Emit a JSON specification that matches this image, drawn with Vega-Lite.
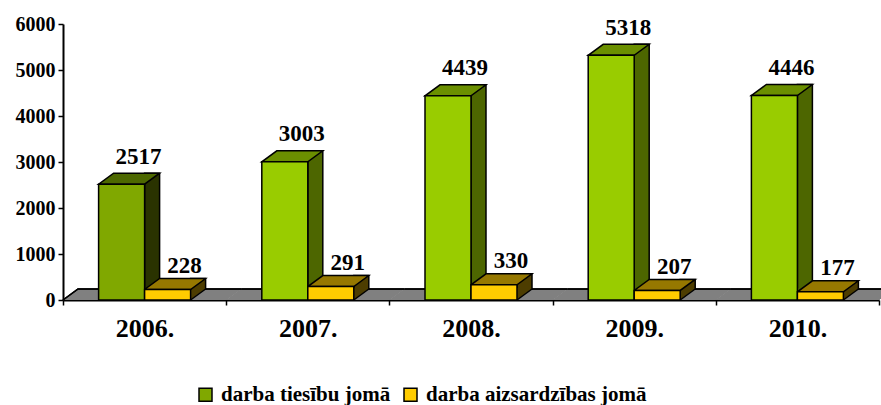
{
  "$schema": "https://vega.github.io/schema/vega-lite/v6.json",
  "width": 816,
  "height": 276,
  "autosize": {"type": "none"},
  "padding": {"left": 63, "top": 24, "right": 2, "bottom": 105},
  "background": "white",
  "config": {
    "view": {"stroke": null},
    "font": "Liberation Serif",
    "legend": {"labelFont": "Liberation Serif", "labelFontWeight": "bold", "labelFontSize": 21}
  },
  "data": {
    "values": [
      {"year": "2006.", "series": "darba tiesību jomā", "value": 2517},
      {"year": "2006.", "series": "darba aizsardzības jomā", "value": 228},
      {"year": "2007.", "series": "darba tiesību jomā", "value": 3003},
      {"year": "2007.", "series": "darba aizsardzības jomā", "value": 291},
      {"year": "2008.", "series": "darba tiesību jomā", "value": 4439},
      {"year": "2008.", "series": "darba aizsardzības jomā", "value": 330},
      {"year": "2009.", "series": "darba tiesību jomā", "value": 5318},
      {"year": "2009.", "series": "darba aizsardzības jomā", "value": 207},
      {"year": "2010.", "series": "darba tiesību jomā", "value": 4446},
      {"year": "2010.", "series": "darba aizsardzības jomā", "value": 177}
    ]
  },
  "encoding": {
    "x": {
      "field": "year", "type": "nominal", "sort": null,
      "scale": {"paddingInner": 0, "paddingOuter": 0},
      "axis": {
        "title": null, "labelAngle": 0, "tickBand": "extent",
        "labelFont": "Liberation Serif", "labelFontSize": 26, "labelFontWeight": "bold", "labelColor": "black",
        "labelPadding": 10, "tickSize": 5, "tickColor": "black", "tickWidth": 1.5,
        "domainColor": "black", "domainWidth": 2, "grid": false
      }
    },
    "y": {
      "field": "value", "type": "quantitative", "stack": null,
      "scale": {"domain": [0, 6000], "nice": false, "padding": 0, "zero": true},
      "axis": {
        "title": null, "values": [0, 1000, 2000, 3000, 4000, 5000, 6000], "format": "d",
        "labelFont": "Liberation Serif", "labelFontSize": 20, "labelFontWeight": "bold", "labelColor": "black",
        "labelPadding": 3, "tickSize": 5, "tickColor": "black", "tickWidth": 1.5,
        "domainColor": "black", "domainWidth": 2, "grid": false
      }
    }
  },
  "layer": [
    {
      "mark": {"type": "point", "shape": "M -81.6 0 L 81.6 0 L 96.6 -11 L -66.6 -11 Z", "size": 4, "filled": true, "fill": "#808080", "strokeWidth": 0, "opacity": 1},
      "encoding": {"y": {"datum": 0, "type": "quantitative"}}
    },
    {
      "mark": {"type": "point", "size": 4, "filled": false, "fill": null, "stroke": "black", "strokeWidth": 1.5, "opacity": 1},
      "encoding": {
        "y": {"datum": 0, "type": "quantitative"},
        "shape": {"condition": {"test": "datum.year === '2006.'", "value": "M -81.6 0 L -66.6 -11 L 96.6 -11"}, "value": "M -66.6 -11 L 96.6 -11"}
      }
    },
    {
      "transform": [{"filter": "datum.series === 'darba tiesību jomā'"}],
      "mark": {"type": "bar", "yOffset": -11, "y2Offset": -11, "stroke": "black", "strokeWidth": 1.5},
      "encoding": {
        "x": {"field": "year", "type": "nominal", "bandPosition": 0.5},
        "x2": {"field": "year", "bandPosition": 0.5919},
        "y2": {"datum": 0},
        "fill": {"condition": {"test": "datum.year === '2006.'", "value": "#2a3300"}, "value": "#4d6600"}
      }
    },
    {
      "transform": [{"filter": "datum.series === 'darba aizsardzības jomā'"}],
      "mark": {"type": "bar", "yOffset": -11, "y2Offset": -11, "stroke": "black", "strokeWidth": 1.5, "fill": "#4d3d00"},
      "encoding": {
        "x": {"field": "year", "type": "nominal", "bandPosition": 0.7819},
        "x2": {"field": "year", "bandPosition": 0.8738},
        "y2": {"datum": 0}
      }
    },
    {
      "mark": {"type": "point", "shape": "M 23 -11.9 L 37.3 -11.9 L 37.3 -10.5 L 23 0 Z", "size": 4, "filled": true, "strokeWidth": 0, "opacity": 1},
      "encoding": {
        "y": {"datum": 0, "type": "quantitative"},
        "xOffset": {"field": "series", "type": "nominal", "scale": {"domain": ["darba tiesību jomā", "darba aizsardzības jomā"], "paddingInner": 0, "paddingOuter": 0.774}},
        "fill": {"condition": [
          {"test": "datum.series === 'darba aizsardzības jomā'", "value": "#4d3d00"},
          {"test": "datum.year === '2006.'", "value": "#2a3300"}
        ], "value": "#4d6600"}
      }
    },
    {
      "mark": {"type": "point", "shape": "M 23 0 L 38 -11", "size": 4, "filled": false, "fill": null, "stroke": "black", "strokeWidth": 1.5, "opacity": 1},
      "encoding": {
        "y": {"datum": 0, "type": "quantitative"},
        "xOffset": {"field": "series", "type": "nominal"}
      }
    },
    {
      "mark": {"type": "point", "shape": "M -23 0 L 23 0 L 38 -11 L -8 -11 Z", "size": 4, "filled": true, "stroke": "black", "strokeWidth": 1.5, "opacity": 1},
      "encoding": {
        "xOffset": {"field": "series", "type": "nominal"},
        "fill": {"condition": [
          {"test": "datum.series === 'darba aizsardzības jomā'", "value": "#967800"},
          {"test": "datum.year === '2006.'", "value": "#4d6800"}
        ], "value": "#6b8f00"}
      }
    },
    {
      "mark": {"type": "bar", "stroke": "black", "strokeWidth": 1.5},
      "encoding": {
        "xOffset": {"field": "series", "type": "nominal"},
        "fill": {
          "condition": {"test": "datum.series === 'darba tiesību jomā' && datum.year !== '2006.'", "value": "#99cc00"},
          "field": "series", "type": "nominal",
          "scale": {"domain": ["darba tiesību jomā", "darba aizsardzības jomā"], "range": ["#80a800", "#ffcc00"]},
          "legend": {
            "title": null, "orient": "none", "legendX": 132, "legendY": 360, "direction": "horizontal",
            "symbolType": "square", "symbolSize": 169, "symbolStrokeColor": "black", "symbolStrokeWidth": 1.5,
            "labelFont": "Liberation Serif", "labelFontSize": 21, "labelFontWeight": "bold", "labelColor": "black",
            "labelOffset": 5, "columnPadding": 9, "padding": 0, "labelLimit": 400
          }
        }
      }
    },
    {
      "transform": [{"filter": "datum.series === 'darba tiesību jomā'"}],
      "mark": {"type": "text", "dx": 17, "dy": -20.5, "baseline": "alphabetic", "align": "center", "font": "Liberation Serif", "fontSize": 23, "fontWeight": "bold", "color": "black"},
      "encoding": {
        "xOffset": {"field": "series", "type": "nominal"},
        "text": {"field": "value", "type": "quantitative", "format": "d"}
      }
    },
    {
      "transform": [{"filter": "datum.series === 'darba aizsardzības jomā'"}],
      "mark": {"type": "text", "dx": 17, "dy": -16.5, "baseline": "alphabetic", "align": "center", "font": "Liberation Serif", "fontSize": 23, "fontWeight": "bold", "color": "black"},
      "encoding": {
        "xOffset": {"field": "series", "type": "nominal"},
        "text": {"field": "value", "type": "quantitative", "format": "d"}
      }
    }
  ]
}
